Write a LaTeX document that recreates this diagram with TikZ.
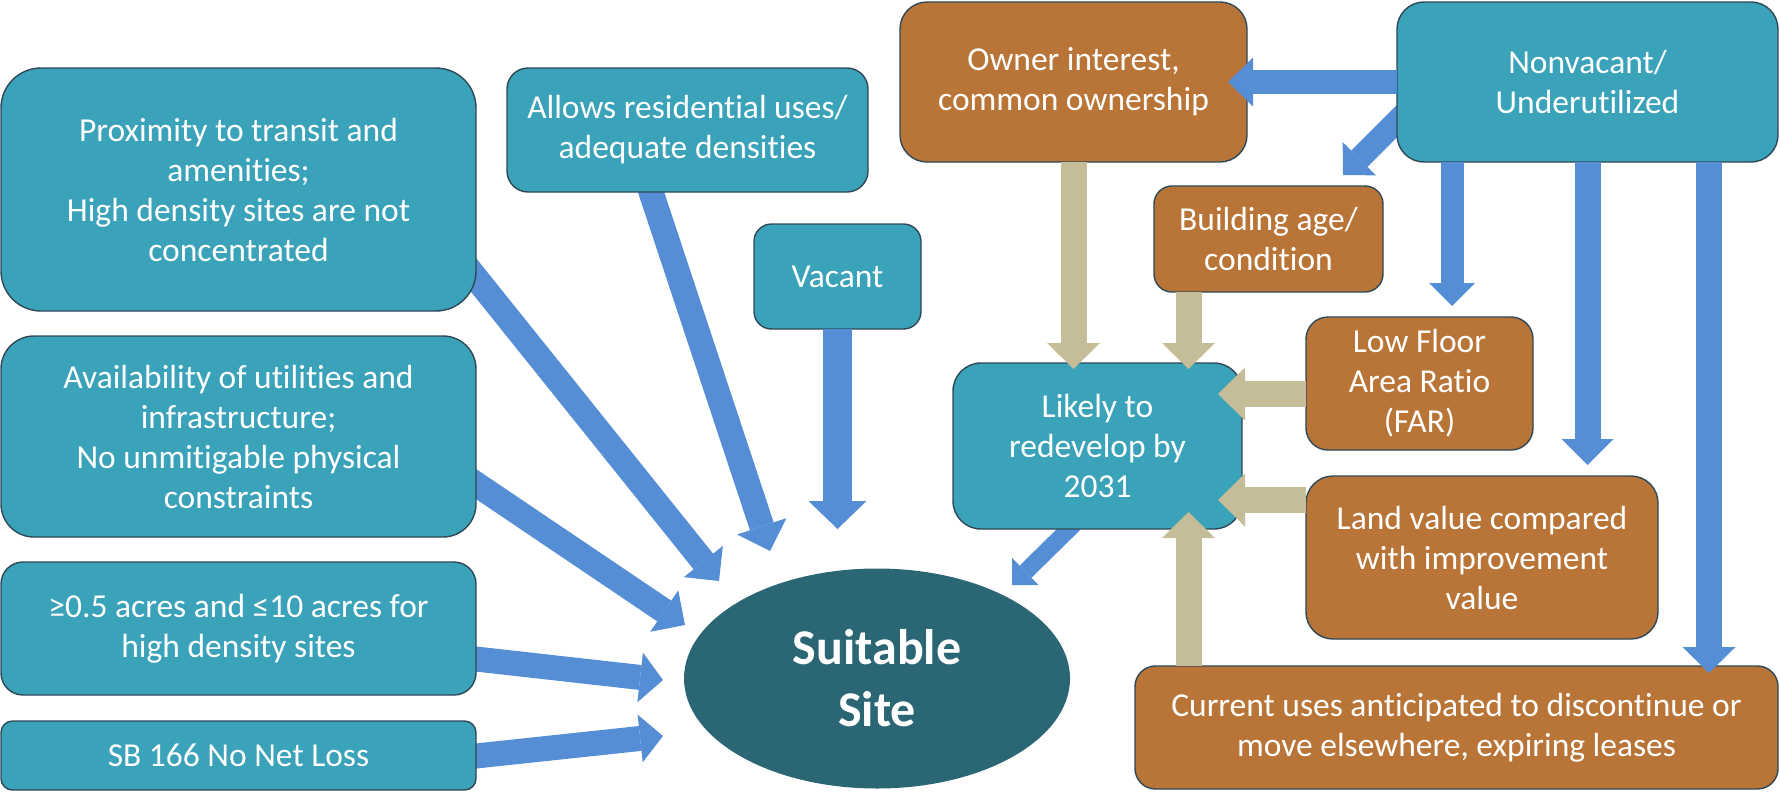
\documentclass[tikz,border=0pt]{standalone}
\usepackage{fontspec}
\setmainfont{Carlito}[Ligatures={NoCommon}]
\usetikzlibrary{arrows.meta,shapes.geometric,calc}
\pgfdeclarelayer{background}
\pgfsetlayers{background,main}
\definecolor{tealbox}{RGB}{58,162,185}
\definecolor{brownbox}{RGB}{184,117,55}
\definecolor{sitefill}{RGB}{42,102,116}
\definecolor{edgeline}{RGB}{47,72,88}
\definecolor{arrowblue}{RGB}{85,142,213}
\definecolor{arrowtan}{RGB}{196,189,151}
\tikzset{
  box/.style n args={3}{draw=edgeline, line width=1.4pt, text=white, align=center,
    inner sep=0pt, outer sep=0pt, minimum width=#1, minimum height=#2,
    rounded corners=#3, font=\fontsize{33.5}{40}\selectfont},
  tealnode/.style n args={3}{box={#1}{#2}{#3}, fill=tealbox},
  brownnode/.style n args={3}{box={#1}{#2}{#3}, fill=brownbox},
  bluearrow/.style n args={3}{draw=arrowblue, line width=#1,
    -{Triangle[length=#3, width=#2, line width=0pt]}},
  tanarrow/.style n args={3}{draw=arrowtan, line width=#1,
    -{Triangle[length=#3, width=#2, line width=0pt]}},
}
\begin{document}
\begin{tikzpicture}[x=1pt, y=-1pt]
\useasboundingbox (0,0) rectangle (1780,793);

% criteria on the left
\node[tealnode={475pt}{243pt}{40pt}] (prox) at (238.5,189.5)
  {Proximity to transit and\\amenities;\\High density sites are not\\concentrated};
\node[tealnode={475pt}{201pt}{33pt}] (avail) at (238.5,436.5)
  {Availability of utilities and\\infrastructure;\\No unmitigable physical\\constraints};
\node[tealnode={475pt}{133pt}{22pt}] (acres) at (238.5,628.5)
  {≥0.5 acres and ≤10 acres for\\high density sites};
\node[tealnode={475pt}{69pt}{11.5pt}] (sb) at (238.5,755.5) {SB 166 No Net Loss};
\node[tealnode={361pt}{124pt}{21pt}] (allows) at (687.5,130)
  {Allows residential uses/\\adequate densities};
\node[tealnode={167pt}{105pt}{17.5pt}] (vacant) at (837.5,276.5) {Vacant};

% outcome
\node[ellipse, fill=sitefill, minimum width=386pt, minimum height=220pt, inner sep=0pt,
  outer sep=0pt, text=white, align=center, font=\bfseries\fontsize{50}{62}\selectfont]
  (suit) at (877,678.5) {Suitable\\Site};

% redevelopment factors
\node[brownnode={347pt}{160pt}{27pt}] (owner) at (1073.5,82)
  {Owner interest,\\common ownership};
\node[tealnode={381pt}{160pt}{27pt}] (nonvac) at (1587.5,82)
  {Nonvacant/\\Underutilized};
\node[brownnode={229pt}{106pt}{18pt}] (build) at (1268.5,239)
  {Building age/\\condition};
\node[brownnode={227pt}{133pt}{22pt}] (lowfar) at (1419.5,383.5)
  {Low Floor\\Area Ratio\\(FAR)};
\node[tealnode={289pt}{166pt}{28pt}] (likely) at (1097.5,446)
  {Likely to\\redevelop by\\2031};
\node[brownnode={352pt}{163pt}{27pt}] (land) at (1482,557.5)
  {Land value compared\\with improvement\\value};
\node[brownnode={643pt}{123pt}{20.5pt}] (current) at (1456.5,727.5)
  {Current uses anticipated to discontinue or\\move elsewhere, expiring leases};

% slanted arrows start behind their source boxes
\begin{pgfonlayer}{background}
  \coordinate (p1) at ($(prox.east)+(0,88.5)$);
  \coordinate (q1) at ($(suit.center)+(-158,-97.5)$);
  \draw[bluearrow={25pt}{50pt}{25pt}] ($(p1)!-30pt!(q1)$) -- (q1);
  \coordinate (p2) at ($(allows.south)+(-36.5,0)$);
  \coordinate (q2) at ($(suit.center)+(-107,-127.5)$);
  \draw[bluearrow={25pt}{52pt}{26pt}] ($(p2)!-30pt!(q2)$) -- (q2);
  \coordinate (p4) at ($(avail.east)+(0,47.5)$);
  \coordinate (q4) at ($(suit.center)+(-192,-53.5)$);
  \draw[bluearrow={25pt}{50pt}{25pt}] ($(p4)!-30pt!(q4)$) -- (q4);
  \coordinate (p5) at ($(acres.east)+(0,30.5)$);
  \coordinate (q5) at ($(suit.center)+(-214,1.5)$);
  \draw[bluearrow={25pt}{50pt}{23pt}] ($(p5)!-30pt!(q5)$) -- (q5);
  \coordinate (p6) at ($(sb.east)+(0,0.5)$);
  \coordinate (q6) at ($(suit.center)+(-214,57.5)$);
  \draw[bluearrow={25pt}{48pt}{23pt}] ($(p6)!-30pt!(q6)$) -- (q6);
  \coordinate (p7) at ($(likely.south)+(-28.5,0)$);
  \coordinate (q7) at ($(suit.center)+(135,-93.5)$);
  \draw[bluearrow={17pt}{38pt}{19pt}] ($(p7)!-30pt!(q7)$) -- (q7);
  \coordinate (p9) at ($(nonvac.west)+(0,39)$);
  \coordinate (q9) at ($(build.north)+(74.5,-11)$);
  \draw[bluearrow={23pt}{47pt}{23pt}] ($(p9)!-30pt!(q9)$) -- (q9);
\end{pgfonlayer}

% straight arrows
\draw[bluearrow={29pt}{58pt}{28pt}] (vacant.south) -- ($(suit.center)+(-39.5,-149.5)$);
\draw[bluearrow={24pt}{49pt}{25pt}] (nonvac.west) -- ($(owner.east)+(-19,0)$);
\draw[bluearrow={23pt}{46pt}{23pt}] ($(nonvac.south)+(-135.5,0)$) -- ($(lowfar.north)+(32.5,-11)$);
\draw[bluearrow={26pt}{52pt}{26pt}] (nonvac.south) -- ($(land.north)+(105.5,-11)$);
\draw[bluearrow={26pt}{53pt}{26pt}] ($(nonvac.south)+(121.5,0)$) -- ($(current.north)+(252.5,7)$);

\draw[tanarrow={26pt}{53pt}{26pt}] (owner.south) -- ($(likely.north)+(-24,6)$);
\draw[tanarrow={26pt}{53pt}{26pt}] ($(build.south)+(-80,0)$) -- ($(likely.north)+(91,6)$);
\draw[tanarrow={26pt}{53pt}{27pt}] ($(lowfar.west)+(0,10.5)$) -- ($(likely.east)+(-24,-52)$);
\draw[tanarrow={26pt}{53pt}{27pt}] ($(land.west)+(0,-57.5)$) -- ($(likely.east)+(-24,54)$);
\draw[tanarrow={26pt}{53pt}{26pt}] ($(current.north)+(-268,0)$) -- ($(likely.south)+(91,-17)$);
\end{tikzpicture}
\end{document}
